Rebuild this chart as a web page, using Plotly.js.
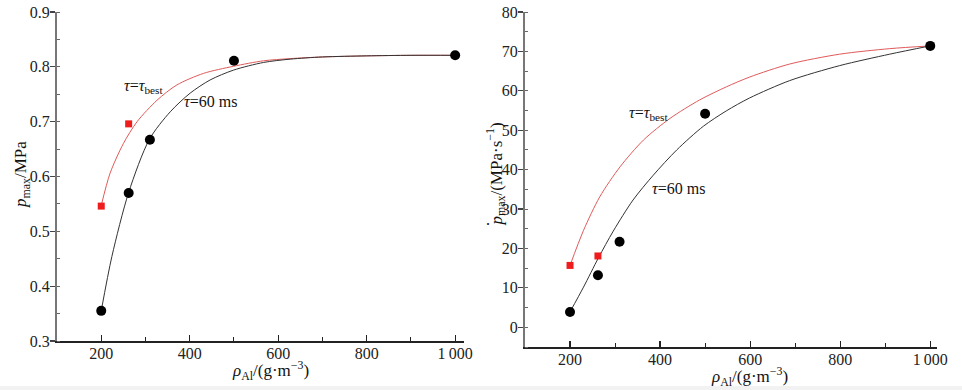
<!DOCTYPE html>
<html>
<head>
<meta charset="utf-8">
<script src="https://cdn.plot.ly/plotly-3.0.1.min.js"></script>
<style>html,body{margin:0;padding:0;background:#fff;}#chart{width:962px;height:390px;}</style>
</head>
<body>
<div id="chart"></div>
<script>
// ---- Left panel: peak pressure ----
const rho60 = [200, 262, 310, 500, 1000];
const pmax60 = [0.355, 0.570, 0.667, 0.811, 0.821];
const rhoBest = [200, 262];
const pmaxBest = [0.546, 0.696];
const fitRho60L = [200, 224, 262, 309, 356, 401, 446, 499, 567, 627, 700, 800, 900, 1000];
const fitP60L = [0.355, 0.454, 0.571, 0.668, 0.718, 0.752, 0.776, 0.794, 0.808, 0.814, 0.818, 0.820, 0.821, 0.821];
const fitRhoBestL = [200, 220, 250, 281, 326, 371, 431, 499, 567, 627, 700, 800, 900, 1000];
const fitPBestL = [0.547, 0.606, 0.660, 0.700, 0.739, 0.767, 0.788, 0.801, 0.811, 0.815, 0.818, 0.820, 0.821, 0.821];

// ---- Right panel: peak pressure rise rate ----
const dp60 = [3.9, 13.2, 21.7, 54.2, 71.4];
const dpBest = [15.7, 18.1];
const fitRho60R = [200, 230, 263, 296, 340, 385, 437, 496, 547, 599, 688, 799, 910, 1000];
const fitDp60R = [3.9, 10.2, 17.6, 24.4, 32.3, 38.6, 45.0, 51.0, 54.9, 58.2, 62.6, 66.4, 69.3, 71.4];
const fitRhoBestR = [200, 230, 266, 311, 363, 422, 488, 547, 599, 688, 799, 910, 1000];
const fitDpBestR = [15.7, 24.6, 33.1, 40.7, 47.5, 53.0, 57.7, 61.0, 63.5, 66.8, 69.3, 70.7, 71.4];

const xTickVals = [200, 400, 600, 800, 1000];
const xTickText = ['200', '400', '600', '800', '1\u2009000'];
const xMinorVals = [300, 500, 700, 900];

const FONT = '"Liberation Serif", "Times New Roman", serif';
const RED = '#ee1c1c';
const REDLINE = '#e05a5a';

const traces = [
  {x: fitRhoBestL, y: fitPBestL, mode: 'lines', line: {color: REDLINE, width: 1, shape: 'spline', smoothing: 0.8}, xaxis: 'x', yaxis: 'y', hoverinfo: 'skip'},
  {x: fitRho60L, y: fitP60L, mode: 'lines', line: {color: '#333', width: 1, shape: 'spline', smoothing: 0.8}, xaxis: 'x', yaxis: 'y', hoverinfo: 'skip'},
  {x: rho60, y: pmax60, mode: 'markers', marker: {symbol: 'circle', size: 10, color: '#000'}, xaxis: 'x', yaxis: 'y'},
  {x: rhoBest, y: pmaxBest, mode: 'markers', marker: {symbol: 'square', size: 7, color: RED}, xaxis: 'x', yaxis: 'y'},

  {x: fitRhoBestR, y: fitDpBestR, mode: 'lines', line: {color: REDLINE, width: 1, shape: 'spline', smoothing: 0.8}, xaxis: 'x2', yaxis: 'y2', hoverinfo: 'skip'},
  {x: fitRho60R, y: fitDp60R, mode: 'lines', line: {color: '#333', width: 1, shape: 'spline', smoothing: 0.8}, xaxis: 'x2', yaxis: 'y2', hoverinfo: 'skip'},
  {x: rho60, y: dp60, mode: 'markers', marker: {symbol: 'circle', size: 10, color: '#000'}, xaxis: 'x2', yaxis: 'y2'},
  {x: rhoBest, y: dpBest, mode: 'markers', marker: {symbol: 'square', size: 7, color: RED}, xaxis: 'x2', yaxis: 'y2'}
];

function xAxis(dom, anchor, range) {
  return {
    domain: dom, anchor: anchor, range: range,
    showgrid: false, zeroline: false, showline: true, linecolor: '#222', linewidth: 1.5,
    ticks: 'inside', ticklen: 6, tickwidth: 1.2, tickcolor: '#222',
    tickmode: 'array', tickvals: xTickVals, ticktext: xTickText,
    ticklabelstandoff: -3,
    minor: {tickmode: 'array', tickvals: xMinorVals, ticks: 'inside', ticklen: 4, tickcolor: '#222', tickwidth: 1},
    tickfont: {family: FONT, size: 16, color: '#222'}
  };
}
function yAxis(dom, anchor, range, dtick, mdt, fmt) {
  return {
    domain: dom, anchor: anchor, range: range,
    showgrid: false, zeroline: false, showline: true, linecolor: '#777', linewidth: 2,
    ticks: 'outside', ticklen: 5, tickwidth: 1.2, tickcolor: '#444',
    dtick: dtick, tick0: 0, tickformat: fmt,
    ticklabelstandoff: -3,
    minor: {dtick: mdt, ticks: 'inside', ticklen: 3, tickcolor: '#666', tickwidth: 1},
    tickfont: {family: FONT, size: 16, color: '#222'}
  };
}

const ann = (x, y, text, extra) => Object.assign({
  x: x / 962, y: 1 - y / 390, text, xref: 'paper', yref: 'paper',
  xanchor: 'center', yanchor: 'middle', showarrow: false,
  font: {family: FONT, size: 16, color: '#111'}
}, extra || {});
const TF = {family: FONT, size: 17, color: '#111'};

const layout = {
  width: 962, height: 390,
  margin: {l: 0, r: 0, t: 0, b: 0},
  paper_bgcolor: '#fff', plot_bgcolor: '#fff',
  showlegend: false,
  xaxis: xAxis([57/962, 464/962], 'y', [100, 1020]),
  yaxis: yAxis([1 - 341/390, 1 - 12/390], 'x', [0.3, 0.9], 0.1, 0.05, '.1f'),
  xaxis2: xAxis([525/962, 937/962], 'y2', [100, 1015]),
  yaxis2: yAxis([1 - 347/390, 1 - 12/390], 'x2', [-5, 80], 10, 5, 'd'),
  annotations: [
    ann(143, 86, '<i>τ</i>=<i>τ</i><sub>best</sub>'),
    ann(210, 102, '<i>τ</i>=60 ms'),
    ann(648, 113, '<i>τ</i>=<i>τ</i><sub>best</sub>'),
    ann(678, 188, '<i>τ</i>=60 ms'),
    ann(270, 370, '<i>ρ</i><sub>Al</sub>/(g·m<sup>−3</sup>)', {font: TF}),
    ann(749, 376, '<i>ρ</i><sub>Al</sub>/(g·m<sup>−3</sup>)', {font: TF}),
    ann(22, 175, '<i>p</i><sub>max</sub>/MPa', {textangle: -90, font: TF}),
    ann(496, 228, '<i>p</i><sub>max</sub>/(MPa·s<sup>−1</sup>)', {textangle: -90, yanchor: 'bottom', font: TF}),
    ann(494, 224, '˙', {textangle: -90, font: {family: FONT, size: 18, color: '#111'}})
  ],
  shapes: [
    {type: 'rect', xref: 'paper', yref: 'paper', x0: 0, x1: 1, y0: 0, y1: 4/390, fillcolor: '#f2f2f2', line: {width: 0}, layer: 'below'}
  ]
};

Plotly.newPlot('chart', traces, layout, {staticPlot: true, displayModeBar: false});
</script>
</body>
</html>
